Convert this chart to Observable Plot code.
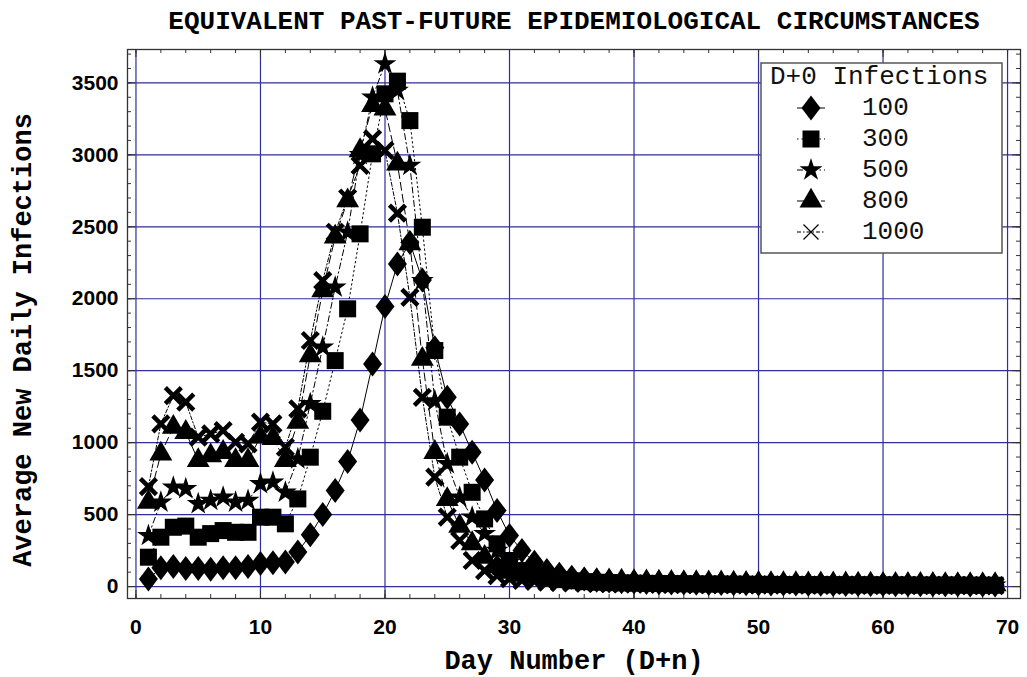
<!DOCTYPE html>
<html><head><meta charset="utf-8">
<script src="https://cdn.jsdelivr.net/npm/d3@7"></script>
<script src="https://cdn.jsdelivr.net/npm/@observablehq/plot@0.6"></script>
<style>html,body{margin:0;padding:0;background:#fff;}</style>
</head><body><div id="chart"></div>
<script>
const days = [1,2,3,4,5,6,7,8,9,10,11,12,13,14,15,16,17,18,19,20,21,22,23,24,25,26,27,28,29,30,31,32,33,34,35,36,37,38,39,40,41,42,43,44,45,46,47,48,49,50,51,52,53,54,55,56,57,58,59,60,61,62,63,64,65,66,67,68,69];
const seriesLabels = ["100","300","500","800","1000"];
const s100 = [53,130,140,125,125,120,130,130,140,160,
  165,170,240,360,500,667,869,1158,1547,1946,
  2242,2390,2130,1660,1315,1130,933,741,528,354,
  250,169,111,85,65,52,44,38,34,31,
  29,27,25,24,23,22,21,20,19,18,
  18,17,17,16,16,15,15,14,14,14,
  13,13,13,12,12,12,11,11,11];
const s300 = [204,343,412,420,343,368,389,377,377,482,
  482,436,609,899,1218,1570,1930,2451,3007,3424,
  3512,3238,2497,1640,1177,899,655,470,297,181,
  111,80,60,48,40,34,30,27,25,23,
  22,21,20,19,18,17,17,16,16,15,
  15,14,14,13,13,13,12,12,12,11,
  11,11,10,10,10,10,9,9,9];
const s500 = [354,586,690,679,575,598,621,586,598,714,
  725,655,887,1270,1663,2080,2462,3000,3400,3632,
  3447,2926,2126,1290,853,621,482,368,250,169,
  115,82,62,50,42,36,32,29,27,25,
  23,22,21,20,19,18,17,17,16,15,
  15,14,14,13,13,12,12,12,11,11,
  11,10,10,10,10,9,9,9,9];
const s800 = [586,922,1107,1072,876,910,933,876,876,1040,
  1030,876,1142,1605,2057,2430,2682,3030,3343,3320,
  2937,2383,1580,933,605,420,299,204,140,100,
  80,68,60,55,50,46,43,40,38,36,
  34,32,30,29,28,27,26,25,24,23,
  22,21,21,20,20,19,19,18,18,17,
  17,16,16,16,15,15,15,14,14];
const s1000 = [695,1131,1327,1281,1038,1061,1084,1003,992,1142,
  1131,968,1235,1710,2126,2462,2700,2926,3111,3030,
  2595,2010,1315,760,482,320,181,111,75,55,
  43,36,31,28,25,23,21,20,19,18,
  17,16,15,15,14,14,13,13,12,12,
  12,11,11,11,10,10,10,10,9,9,
  9,9,8,8,8,8,8,7,7];
const xTicks = [0,10,20,30,40,50,60,70];
const yTicks = [0,500,1000,1500,2000,2500,3000,3500];
const xMinor = [0,2,4,6,8,10,12,14,16,18,20,22,24,26,28,30,32,34,36,38,40,42,44,46,48,50,52,54,56,58,60,62,64,66,68,70];
const yMinor = [0,100,200,300,400,500,600,700,800,900,1000,1100,1200,1300,1400,1500,1600,1700,1800,1900,2000,2100,2200,2300,2400,2500,2600,2700,2800,2900,3000,3100,3200,3300,3400,3500,3600,3700];
const title = "EQUIVALENT PAST-FUTURE EPIDEMIOLOGICAL CIRCUMSTANCES";
const xLabel = "Day Number (D+n)";
const yLabel = "Average New Daily Infections";
const legendTitle = "D+0 Infections";

const values = [s100, s300, s500, s800, s1000];

// custom symbols
const diamondSym = {draw(ctx){ctx.moveTo(0,-12.5);ctx.lineTo(9.5,0);ctx.lineTo(0,12.5);ctx.lineTo(-9.5,0);ctx.closePath();}};
const boldX = {draw(ctx){ctx.moveTo(-8,-8);ctx.lineTo(8,8);ctx.moveTo(8,-8);ctx.lineTo(-8,8);}};
const thinX = {draw(ctx){ctx.moveTo(-7.5,-7.5);ctx.lineTo(7.5,7.5);ctx.moveTo(7.5,-7.5);ctx.lineTo(-7.5,7.5);}};

const styles = [
  {sym: diamondSym, r: 10, dash: null, filled: true, legendSym: diamondSym},
  {sym: d3.symbolSquare, r: 9.6, dash: "1.5,3", filled: true, legendSym: d3.symbolSquare},
  {sym: d3.symbolStar, r: 7.2, dash: "6,3,1.5,3", filled: true, legendSym: d3.symbolStar},
  {sym: d3.symbolTriangle, r: 8.5, dash: "8,4", filled: true, legendSym: d3.symbolTriangle},
  {sym: boldX, r: 8, dash: "4,2,1.5,2", filled: false, legendSym: thinX}
];

const tables = values.map((vals, k) => days.map((d, i) => ({day: d, value: vals[i], series: seriesLabels[k]})));

const W = 1027, H = 677, ML = 127, MR = 7, MT = 49, MB = 79;
const FW = W - ML - MR, FH = H - MT - MB;
const navy = "#2e2e9c";

const marks = [
  Plot.gridX({ticks: xTicks, stroke: navy, strokeOpacity: 1, strokeWidth: 1.2}),
  Plot.gridY({ticks: yTicks, stroke: navy, strokeOpacity: 1, strokeWidth: 1.2}),
  Plot.ruleX(xMinor, {insetTop: FH - 4, stroke: "#333"}),
  Plot.ruleX(xMinor, {insetBottom: FH - 4, stroke: "#333"}),
  Plot.ruleY(yMinor, {insetRight: FW - 4, stroke: "#333"}),
  Plot.ruleY(yMinor, {insetLeft: FW - 4, stroke: "#333"}),
  Plot.ruleX(xTicks, {insetTop: FH - 8, stroke: "#333"}),
  Plot.ruleX(xTicks, {insetBottom: FH - 8, stroke: "#333"}),
  Plot.ruleY(yTicks, {insetRight: FW - 8, stroke: "#333"}),
  Plot.ruleY(yTicks, {insetLeft: FW - 8, stroke: "#333"}),
  Plot.frame({stroke: "#333", strokeWidth: 1.3})
];
tables.forEach((t, k) => {
  marks.push(Plot.line(t, {x: "day", y: "value", stroke: "black", strokeWidth: 1, strokeDasharray: styles[k].dash}));
});
tables.forEach((t, k) => {
  const st = styles[k];
  if (st.filled) {
    marks.push(Plot.dot(t, {x: "day", y: "value", symbol: st.sym, r: st.r, fill: "black", stroke: "none"}));
  } else {
    marks.push(Plot.dot(t, {x: "day", y: "value", symbol: st.sym, r: st.r, fill: "none", stroke: "black", strokeWidth: 4.5}));
  }
});
marks.push(
  Plot.axisX({ticks: xTicks, tickSize: 0, tickPadding: 21, tickFormat: d => String(d), label: null, fontSize: 21, fontWeight: "bold", fontFamily: "Liberation Sans", fill: "black"}),
  Plot.axisY({ticks: yTicks, tickSize: 0, tickPadding: 9, tickFormat: d => String(d), label: null, fontSize: 21, fontWeight: "bold", fontFamily: "Liberation Sans", fill: "black"}),
  Plot.text([title], {text: d => d, frameAnchor: "top", dy: -29, textAnchor: "middle", fontFamily: "Liberation Mono", fontWeight: "bold", fontSize: 26, fill: "black", lineAnchor: "middle"}),
  Plot.text([xLabel], {text: d => d, frameAnchor: "bottom", dy: 62, textAnchor: "middle", fontFamily: "Liberation Mono", fontWeight: "bold", fontSize: 27, fill: "black", lineAnchor: "middle"}),
  Plot.text([yLabel], {text: d => d, frameAnchor: "left", dx: -105, dy: 16, rotate: -90, textAnchor: "middle", fontFamily: "Liberation Mono", fontWeight: "bold", fontSize: 27, fill: "black", lineAnchor: "middle"})
);

const chart = Plot.plot({
  width: W, height: H,
  marginLeft: ML, marginRight: MR, marginTop: MT, marginBottom: MB,
  x: {domain: [-0.68, 71.04], label: null},
  y: {domain: [-83, 3732], label: null},
  style: {background: "white", fontFamily: "Liberation Sans"},
  marks
});
document.getElementById("chart").appendChild(chart);

// legend
const svg = d3.select(chart);
const lg = svg.append("g").attr("text-anchor", "start");
lg.append("rect").attr("x", 761).attr("y", 63).attr("width", 241).attr("height", 190)
  .attr("fill", "white").attr("stroke", "#555").attr("stroke-width", 1.5);
lg.append("text").attr("x", 770).attr("y", 77).attr("dominant-baseline", "central").attr("text-anchor", "start")
  .attr("font-family", "Liberation Mono").attr("font-size", 26).attr("fill", "#111").text(legendTitle);
seriesLabels.forEach((lab, k) => {
  const st = styles[k];
  const cy = 108 + k * 31;
  lg.append("line").attr("x1", 797).attr("x2", 825).attr("y1", cy).attr("y2", cy)
    .attr("stroke", "black").attr("stroke-width", 1).attr("stroke-dasharray", st.dash);
  const p = lg.append("path").attr("transform", `translate(811,${cy})`)
    .attr("d", d3.symbol(st.legendSym, Math.PI * st.r * st.r)());
  if (st.filled) p.attr("fill", "black"); else p.attr("fill", "none").attr("stroke", "black").attr("stroke-width", 1.2);
  lg.append("text").attr("x", 862).attr("y", cy).attr("dominant-baseline", "central").attr("text-anchor", "start")
    .attr("font-family", "Liberation Mono").attr("font-size", 26).attr("fill", "#111").text(lab);
});
</script></body></html>
